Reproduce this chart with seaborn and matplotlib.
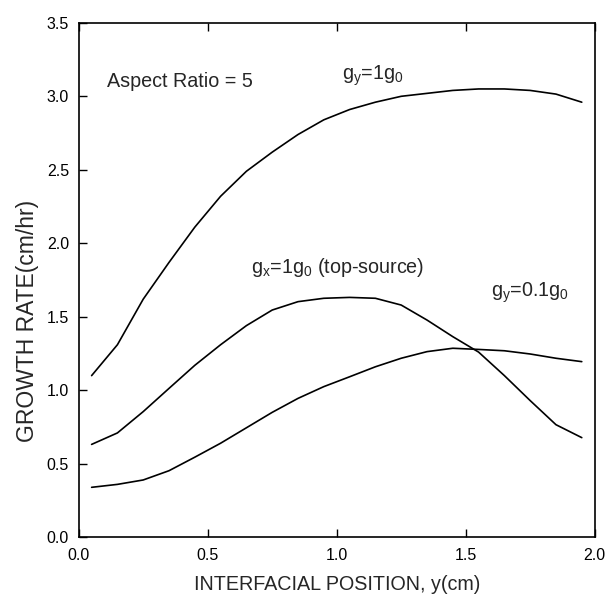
import matplotlib
matplotlib.use("Agg")
import matplotlib.pyplot as plt
import numpy as np
import pandas as pd
import seaborn as sns

# Interfacial position (cm)
position = [0.05, 0.15, 0.25, 0.35, 0.45, 0.55, 0.65, 0.75, 0.85, 0.95,
            1.05, 1.15, 1.25, 1.35, 1.45, 1.55, 1.65, 1.75, 1.85, 1.95]

# Growth rate (cm/hr) for each gravity condition
rate_gy_1 = [1.10, 1.31, 1.62, 1.87, 2.11, 2.32, 2.49, 2.62, 2.74, 2.84,
             2.91, 2.96, 3.00, 3.02, 3.04, 3.05, 3.05, 3.04, 3.015, 2.96]
rate_gx_top = [0.632, 0.71, 0.855, 1.013, 1.17, 1.31, 1.44, 1.546, 1.603, 1.626,
               1.632, 1.626, 1.58, 1.478, 1.365, 1.26, 1.10, 0.93, 0.766, 0.678]
rate_gy_01 = [0.34, 0.36, 0.39, 0.453, 0.545, 0.64, 0.745, 0.85, 0.945, 1.025,
              1.092, 1.16, 1.218, 1.263, 1.286, 1.278, 1.269, 1.247, 1.218, 1.195]

series_names = ["gy=1g0", "gx=1g0 (top-source)", "gy=0.1g0"]
series_values = [rate_gy_1, rate_gx_top, rate_gy_01]

x_ticks = [0.0, 0.5, 1.0, 1.5, 2.0]
y_ticks = [0.0, 0.5, 1.0, 1.5, 2.0, 2.5, 3.0, 3.5]

df = pd.concat(
    [pd.DataFrame({"position": position, "rate": vals, "case": name})
     for name, vals in zip(series_names, series_values)],
    ignore_index=True,
)

sns.set_theme(style="ticks")
plt.rcParams["font.family"] = ["Liberation Sans", "DejaVu Sans"]
plt.rcParams["mathtext.fontset"] = "custom"
plt.rcParams["mathtext.rm"] = "Liberation Sans"
plt.rcParams["mathtext.it"] = "Liberation Sans"

fig = plt.figure(figsize=(6.06, 5.97), dpi=100)
ax = fig.add_axes([0.1299, 0.1, 0.8514, 0.8618])

for name in series_names:
    sub = df[df["case"] == name]
    sns.lineplot(data=sub, x="position", y="rate", ax=ax, color="black",
                 linewidth=1.2, estimator=None, sort=False, legend=False)

ax.set_xlim(0.0, 2.0)
ax.set_ylim(0.0, 3.5)
ax.set_xticks(x_ticks)
ax.set_yticks(y_ticks)
ax.set_xticklabels([f"{v:.1f}" for v in x_ticks])
ax.set_yticklabels([f"{v:.1f}" for v in y_ticks])

ax.tick_params(axis="both", direction="in", length=6, width=1.0,
               labelsize=11.5, colors="black", pad=7)
ax.tick_params(axis="x", top=True, bottom=True, pad=8)
ax.tick_params(axis="y", left=True, right=False)

for side in ["left", "right", "top", "bottom"]:
    ax.spines[side].set_visible(True)
    ax.spines[side].set_linewidth(1.2)
    ax.spines[side].set_color("black")

ax.set_xlabel("INTERFACIAL POSITION, y(cm)", fontsize=14.2, labelpad=8)
ax.set_ylabel("GROWTH RATE(cm/hr)", fontsize=16.5, va="center")
ax.yaxis.set_label_coords(-0.1, 0.42)

ax.text(0.11, 3.065, "Aspect Ratio = 5", fontsize=14.2, ha="left", va="baseline")
ax.text(1.14, 3.11, r"g$_\mathrm{y}$=1g$_\mathrm{0}$", fontsize=14.2,
        ha="center", va="baseline")
ax.text(1.005, 1.80, r"g$_\mathrm{x}$=1g$_\mathrm{0}$ (top-source)", fontsize=14.2,
        ha="center", va="baseline")
ax.text(1.75, 1.64, r"g$_\mathrm{y}$=0.1g$_\mathrm{0}$", fontsize=14.2,
        ha="center", va="baseline")

fig.savefig("out.png", dpi=100, facecolor="white")
